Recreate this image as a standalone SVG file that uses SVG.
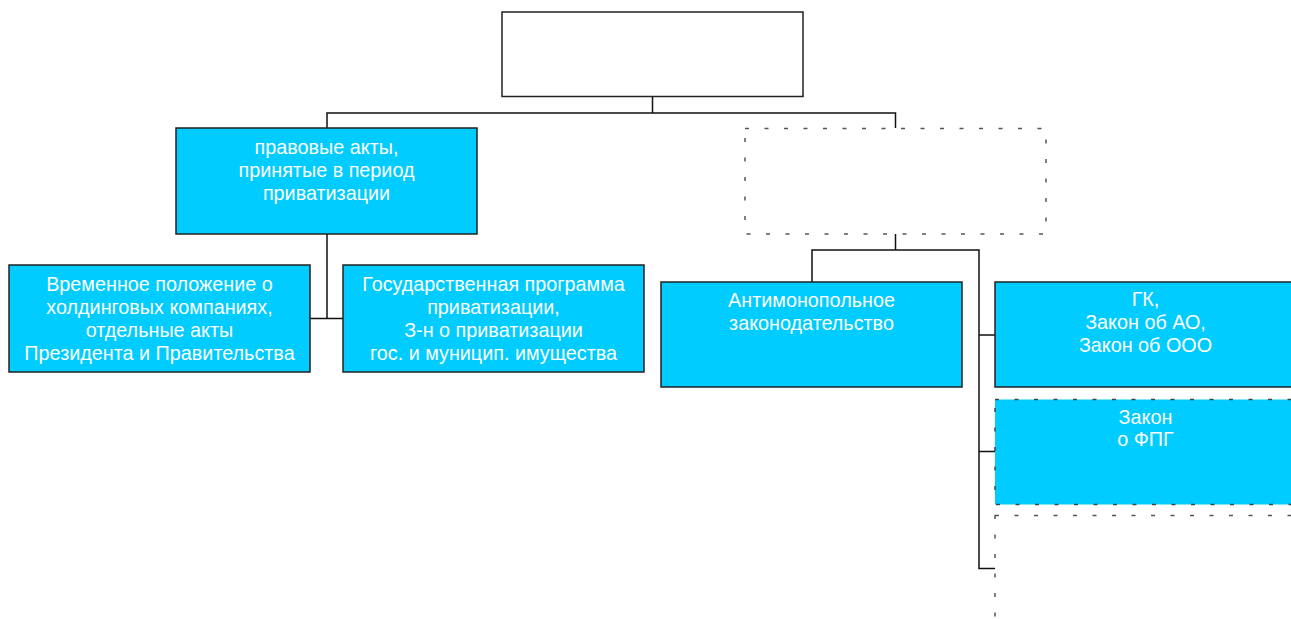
<svg xmlns="http://www.w3.org/2000/svg" width="1291" height="619" viewBox="0 0 1291 619">
<style>
.box{fill:#00CCFF;stroke:#222;stroke-width:1.5}
.top{fill:#fff;stroke:#222;stroke-width:1.5}
.dash{fill:none;stroke:#555;stroke-width:1.5;stroke-dasharray:4 15.5}
.dashf{fill:#00CCFF;stroke:#444;stroke-width:1.5;stroke-dasharray:4 15.5}
.t{font-family:"Liberation Sans",Arial,sans-serif;font-size:19.8px;fill:#fff;text-anchor:middle}
.c{fill:none;stroke:#111;stroke-width:1.5}
</style>
<rect width="1291" height="619" fill="#fff"/>
<g id="connectors">
<path class="c" d="M652.5 96.5V113H327V128M652.5 113H895.5V128"/>
<path class="c" d="M327 234V318.5H310M327 318.5H343"/>
<path class="c" d="M895.5 234V250H812V282M895.5 250H979V568.5H995M979 335H995M979 451.5H995"/>
</g>
<g id="root"><rect class="top" x="502" y="12" width="301" height="84.5"/></g>
<g id="n-privatization"><rect class="box" x="176" y="128" width="301" height="106"/>
<text class="t" x="326.5"><tspan x="326.5" y="154">правовые акты,</tspan><tspan x="326.5" y="177">принятые в период</tspan><tspan x="326.5" y="200">приватизации</tspan></text></g>
<g id="n-dashed-top"><rect class="dash" x="745" y="128.5" width="301" height="105.5"/></g>
<g id="n-temp"><rect class="box" x="9" y="265" width="301" height="107"/>
<text class="t"><tspan x="159.5" y="291">Временное положение о</tspan><tspan x="159.5" y="314">холдинговых компаниях,</tspan><tspan x="159.5" y="337">отдельные акты</tspan><tspan x="159.5" y="360">Президента и Правительства</tspan></text></g>
<g id="n-program"><rect class="box" x="343" y="265" width="301" height="107"/>
<text class="t"><tspan x="493.5" y="291">Государственная программа</tspan><tspan x="493.5" y="314">приватизации,</tspan><tspan x="493.5" y="337">З-н о приватизации</tspan><tspan x="493.5" y="360">гос. и муницип. имущества</tspan></text></g>
<g id="n-antimonopoly"><rect class="box" x="661" y="282" width="301" height="105"/>
<text class="t"><tspan x="811.5" y="307">Антимонопольное</tspan><tspan x="811.5" y="330">законодательство</tspan></text></g>
<g id="n-gk"><rect class="box" x="995" y="282" width="301" height="105"/>
<text class="t"><tspan x="1145.5" y="306">ГК,</tspan><tspan x="1145.5" y="329">Закон об АО,</tspan><tspan x="1145.5" y="352">Закон об ООО</tspan></text></g>
<g id="n-fpg"><rect class="dashf" x="995" y="399.5" width="301" height="105"/>
<text class="t"><tspan x="1145.5" y="423.5">Закон</tspan><tspan x="1145.5" y="446">о ФПГ</tspan></text></g>
<g id="n-dashed-bottom"><rect class="dash" x="995" y="515.5" width="301" height="120"/></g>
</svg>
